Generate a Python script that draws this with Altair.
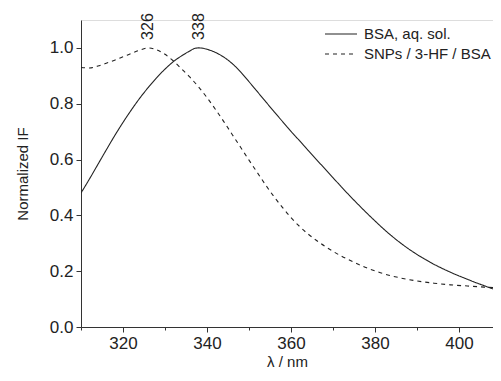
import altair as alt
import pandas as pd

# BSA, aq. sol. (solid)
bsa_x = [310, 312, 314, 316, 318, 320, 322, 324, 326, 328, 330, 332, 334, 336,
         337, 338, 339, 340, 342, 344, 346, 348, 350, 352, 354, 356, 358, 360,
         362, 364, 366, 368, 370, 372, 374, 376, 378, 380, 382, 384, 386, 388,
         390, 392, 394, 396, 398, 400, 402, 404, 406, 408, 410]
bsa_y = [0.480, 0.530, 0.582, 0.634, 0.685, 0.733, 0.778, 0.820, 0.858, 0.893,
         0.924, 0.951, 0.972, 0.990, 0.998, 1.000, 0.999, 0.995, 0.984, 0.967,
         0.944, 0.914, 0.879, 0.843, 0.807, 0.771, 0.736, 0.701, 0.668, 0.634,
         0.601, 0.568, 0.535, 0.502, 0.470, 0.439, 0.409, 0.380, 0.352, 0.326,
         0.302, 0.280, 0.260, 0.242, 0.225, 0.210, 0.196, 0.183, 0.171, 0.159,
         0.148, 0.137, 0.127]

# SNPs / 3-HF / BSA (dashed)
snp_x = [310, 312, 314, 316, 318, 320, 322, 324, 326, 328, 330, 332, 334, 336,
         338, 340, 342, 344, 346, 348, 350, 352, 354, 356, 358, 360, 362, 364,
         366, 368, 370, 372, 374, 376, 378, 380, 382, 384, 386, 388, 390, 394,
         398, 402, 406, 410]
snp_y = [0.930, 0.928, 0.935, 0.945, 0.956, 0.968, 0.980, 0.992, 1.000, 0.993,
         0.977, 0.953, 0.924, 0.894, 0.860, 0.822, 0.780, 0.736, 0.690, 0.644,
         0.598, 0.553, 0.508, 0.466, 0.428, 0.392, 0.361, 0.334, 0.311, 0.290,
         0.271, 0.254, 0.239, 0.225, 0.212, 0.201, 0.191, 0.183, 0.176, 0.170,
         0.165, 0.157, 0.151, 0.147, 0.143, 0.139]

series_names = ["BSA, aq. sol.", "SNPs / 3-HF / BSA"]
peak_x = [326, 338]
peak_labels = ["326", "338"]

x_ticks = [310, 320, 330, 340, 350, 360, 370, 380, 390, 400]
y_ticks = [0.0, 0.1, 0.2, 0.3, 0.4, 0.5, 0.6, 0.7, 0.8, 0.9, 1.0, 1.1]

df = pd.concat([
    pd.DataFrame({"wl": bsa_x, "v": bsa_y, "s": series_names[0]}),
    pd.DataFrame({"wl": snp_x, "v": snp_y, "s": series_names[1]}),
])
peaks = pd.DataFrame({"wl": peak_x, "v": [1.0, 1.0], "t": peak_labels})

FONT = "Liberation Sans"

# visible window: 310 .. ~408 (the reference is cropped at the right edge)
xscale = alt.Scale(domain=[310, 408.1], nice=False, zero=False)
yscale = alt.Scale(domain=[0, 1.1], nice=False)

xaxis = alt.Axis(
    values=x_ticks,
    labelExpr="datum.value % 20 == 0 ? datum.label : ''",
    tickSize={"condition": {"test": "datum.value % 20 == 0", "value": 5}, "value": 3},
    grid=False, domainColor="#333", tickColor="#333", labelColor="#222",
    labelFontSize=17, labelFont=FONT, labelPadding=3, labelFlush=False,
    titleFont=FONT, titleFontSize=15, titleFontWeight="normal", titleColor="#222",
    titlePadding=3, format="d",
)
yaxis = alt.Axis(
    values=y_ticks,
    labelExpr="round(datum.value*10) % 2 == 0 && datum.value < 1.05 ? format(datum.value, '.1f') : ''",
    tickSize={"condition": {"test": "round(datum.value*10) % 2 == 0", "value": 5}, "value": 3},
    grid=False, domainColor="#333", tickColor="#333", labelColor="#222",
    labelFontSize=17, labelFont=FONT, labelPadding=3, labelFlush=False,
    titleFont=FONT, titleFontSize=15, titleFontWeight="normal", titleColor="#222",
    titlePadding=19,
)

lines = alt.Chart(df).mark_line(interpolate="monotone", strokeWidth=1.1, clip=True).encode(
    x=alt.X("wl:Q", scale=xscale, axis=xaxis, title="λ / nm"),
    y=alt.Y("v:Q", scale=yscale, axis=yaxis, title="Normalized IF"),
    strokeDash=alt.StrokeDash(
        "s:N",
        scale=alt.Scale(domain=series_names, range=[[1, 0], [4, 4]]),
        legend=alt.Legend(
            title=None, orient="none", legendX=251, legendY=5,
            symbolType="M-2,0H2", symbolSize=256, symbolStrokeWidth=1.1,
            symbolStrokeColor="#222", labelFont=FONT, labelFontSize=15,
            labelColor="#222", labelOffset=14, rowPadding=3, padding=0,
        ),
    ),
    color=alt.value("#222"),
)

labels = alt.Chart(peaks).mark_text(
    angle=270, align="left", baseline="middle", dx=8, font=FONT, fontSize=16,
    color="#222",
).encode(
    x=alt.X("wl:Q", scale=xscale),
    y=alt.Y("v:Q", scale=yscale),
    text="t:N",
)

chart = alt.layer(lines, labels).properties(
    width=412, height=307,
    autosize=alt.AutoSizeParams(type="none"),
    padding={"left": 73, "top": 12, "right": 0, "bottom": 46},
).configure_view(stroke=None).configure(background="white")

chart.save("out.html", embed_options={"renderer": "svg", "actions": False})
